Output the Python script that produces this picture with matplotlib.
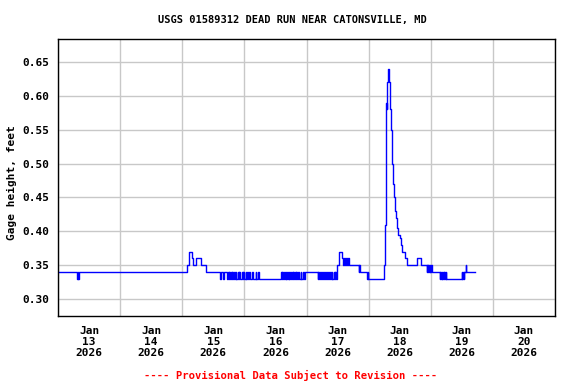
import matplotlib
matplotlib.use("Agg")
import matplotlib.pyplot as plt
import matplotlib.dates as mdates
import pandas as pd

# gage height readings (change points), hours after 2026-01-13 00:00
t_hours = [
    0.0, 7.4, 7.6, 7.8, 8.0,
    50.0, 50.7, 51.6, 52.1, 53.5, 55.1, 57.0,
    62.6, 62.9, 63.7, 64.0, 65.3, 65.6, 65.9, 66.2, 66.5, 66.8, 67.1, 67.4,
    67.7, 68.0, 68.3, 68.6, 68.9, 69.5, 69.8, 70.1, 70.4, 71.0, 71.3, 71.6,
    71.9, 72.5, 72.8, 73.1, 73.4, 73.7, 74.0,
    75.0, 75.2, 76.3, 76.5, 77.3, 77.5,
    86.1, 86.4, 86.7, 87.0, 87.3, 87.6, 87.9, 88.2, 88.5, 88.8, 89.1, 89.4,
    89.7, 90.0, 90.3, 90.6, 90.9, 91.2, 91.5, 91.8, 92.1, 92.4, 92.7, 93.0,
    93.8, 94.0, 94.7, 94.9, 95.6,
    100.3, 100.6, 100.9, 101.2, 101.5, 102.1, 102.4, 102.7, 103.0, 103.6,
    103.9, 104.2, 104.5, 105.1, 105.4, 105.7, 106.0, 106.6, 106.9, 107.2,
    107.5, 107.7, 107.9,
    108.7, 109.8, 110.1, 110.4, 110.8, 111.1, 111.7, 112.0, 112.5,
    116.2, 116.4, 116.6,
    119.4, 119.6, 119.8,
    125.9, 126.3, 126.8, 127.1, 127.2, 127.6, 127.9, 128.1, 128.4, 128.8,
    129.2, 129.6, 129.8, 130.3, 130.7, 131.1, 131.5, 132.0, 132.5, 133.0,
    134.0, 135.0, 138.5, 140.4,
    142.4, 142.6, 142.9, 143.1, 143.4, 143.6, 143.9, 144.1, 144.4,
    147.5, 147.7, 148.0, 148.2, 148.5, 148.7, 149.0, 149.2, 149.5, 149.7, 150.0,
    156.0, 156.2, 156.5, 156.7, 157.0, 157.5, 157.7,
    161.2,
]
gage_ft = [
    0.34, 0.33, 0.34, 0.33, 0.34,
    0.35, 0.37, 0.36, 0.35, 0.36, 0.35, 0.34,
    0.33, 0.34, 0.33, 0.34, 0.33, 0.34, 0.33, 0.34, 0.33, 0.34, 0.33, 0.34,
    0.33, 0.34, 0.33, 0.34, 0.33, 0.34, 0.33, 0.34, 0.33, 0.34, 0.33, 0.34,
    0.33, 0.34, 0.33, 0.34, 0.33, 0.34, 0.33,
    0.34, 0.33, 0.34, 0.33, 0.34, 0.33,
    0.34, 0.33, 0.34, 0.33, 0.34, 0.33, 0.34, 0.33, 0.34, 0.33, 0.34, 0.33,
    0.34, 0.33, 0.34, 0.33, 0.34, 0.33, 0.34, 0.33, 0.34, 0.33, 0.34, 0.33,
    0.34, 0.33, 0.34, 0.33, 0.34,
    0.33, 0.34, 0.33, 0.34, 0.33, 0.34, 0.33, 0.34, 0.33, 0.34,
    0.33, 0.34, 0.33, 0.34, 0.33, 0.34, 0.33, 0.34, 0.33, 0.34,
    0.33, 0.34, 0.35,
    0.37, 0.36, 0.35, 0.36, 0.35, 0.36, 0.35, 0.36, 0.35,
    0.34, 0.35, 0.34,
    0.33, 0.34, 0.33,
    0.35, 0.41, 0.59, 0.58, 0.62, 0.64, 0.62, 0.60, 0.58, 0.55,
    0.50, 0.47, 0.45, 0.43, 0.42, 0.405, 0.395, 0.39, 0.38, 0.37,
    0.36, 0.35, 0.36, 0.35,
    0.34, 0.35, 0.34, 0.35, 0.34, 0.35, 0.34, 0.35, 0.34,
    0.33, 0.34, 0.33, 0.34, 0.33, 0.34, 0.33, 0.34, 0.33, 0.34, 0.33,
    0.34, 0.33, 0.34, 0.33, 0.34, 0.35, 0.34,
    0.34,
]

start = pd.Timestamp("2026-01-13")
times = start + pd.to_timedelta(t_hours, unit="h")

plt.rcParams["font.family"] = "DejaVu Sans Mono"
plt.rcParams["font.weight"] = "bold"

fig = plt.figure(figsize=(5.76, 3.84), dpi=100)
ax = fig.add_axes([58 / 576, 1 - 316 / 384, 497 / 576, 277 / 384])

ax.step(times, gage_ft, where="post", color="#0000ff", linewidth=1)

ax.set_xlim(start, start + pd.Timedelta(days=8))
ax.set_ylim(0.275, 0.684)
ax.set_yticks([0.30, 0.35, 0.40, 0.45, 0.50, 0.55, 0.60, 0.65])
ax.yaxis.set_major_formatter(plt.FormatStrFormatter("%.2f"))

# gridlines at midnight, date labels at noon
ax.xaxis.set_major_locator(mdates.DayLocator())
ax.xaxis.set_major_formatter(plt.NullFormatter())
ax.xaxis.set_minor_locator(mdates.HourLocator(byhour=[12]))
ax.xaxis.set_minor_formatter(mdates.DateFormatter("%b\n%d\n%Y"))

ax.grid(True, which="major", color="#c8c8c8", linewidth=1)
ax.set_axisbelow(True)
ax.tick_params(axis="both", which="both", length=0, labelsize=8)
ax.tick_params(axis="x", which="minor", pad=7)
ax.tick_params(axis="y", pad=6)
for lbl in ax.get_xticklabels(minor=True):
    lbl.set_linespacing(1.15)
for sp in ax.spines.values():
    sp.set_linewidth(1)
    sp.set_color("black")

fig.text(292 / 576, 1 - 20 / 384, "USGS 01589312 DEAD RUN NEAR CATONSVILLE, MD",
         ha="center", va="center", fontsize=7.5, fontweight="bold")
fig.text(12 / 576, 1 - 183 / 384, "Gage height, feet", rotation=90,
         ha="center", va="center", fontsize=8, fontweight="bold")
fig.text(291 / 576, 1 - 375 / 384, "---- Provisional Data Subject to Revision ----",
         ha="center", va="center", fontsize=7.6, fontweight="bold", color="red")

fig.savefig("out.png", dpi=100)
